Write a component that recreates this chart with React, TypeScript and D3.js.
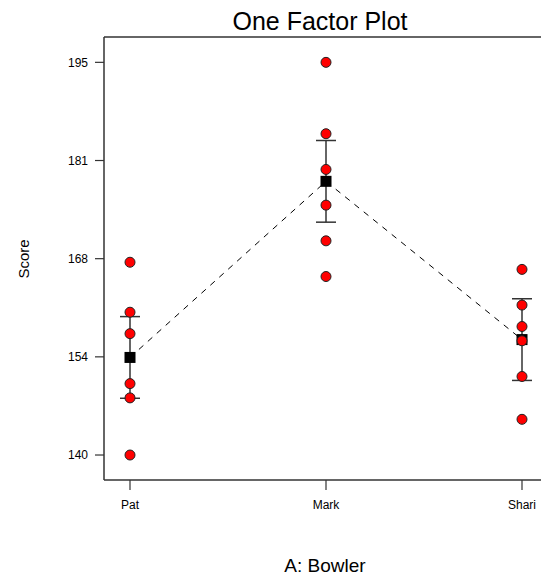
import React from "react";
import * as d3 from "d3";

const categories = ["Pat", "Mark", "Shari"];
const patScores = [167, 160, 157, 150, 148, 140];
const markScores = [195, 185, 180, 175, 170, 165];
const shariScores = [166, 161, 158, 156, 151, 145];
const lsdHalfWidth = [5.72, 5.72, 5.72];
const yTickValues = [140, 153.75, 167.5, 181.25, 195];
const yTickLabels = ["140", "154", "168", "181", "195"];

const W = 541;
const H = 575;
const plotLeft = 104;
const plotTop = 37;
const plotBottom = 480;
const plotRight = 560;

export default function App() {
  const groups = [patScores, markScores, shariScores];
  const x = d3.scalePoint<string>().domain(categories).range([130, 522]);
  const y = d3.scaleLinear().domain([136.5, 198.55]).range([plotBottom, plotTop]);
  const means = groups.map((g) => d3.mean(g) as number);
  const line = d3
    .line<number>()
    .x((_, i) => x(categories[i]) as number)
    .y((d) => y(d));
  const font = "'Liberation Sans', Arial, sans-serif";
  const axisColor = "#333";

  return (
    <svg
      width={W}
      height={H}
      style={{ position: "absolute", left: 0, top: 0, background: "#fff" }}
      fontFamily={font}
    >
      <rect x={0} y={0} width={W} height={H} fill="#fff" />
      <text x={320} y={30} textAnchor="middle" fontSize={25} fill="#000">
        One Factor Plot
      </text>
      {/* frame */}
      <line x1={plotLeft} x2={plotRight} y1={plotTop} y2={plotTop} stroke={axisColor} strokeWidth={1.5} />
      <line x1={plotLeft} x2={plotLeft} y1={plotTop} y2={plotBottom} stroke={axisColor} strokeWidth={1.5} />
      <line x1={plotLeft} x2={plotRight} y1={plotBottom} y2={plotBottom} stroke={axisColor} strokeWidth={1.5} />
      {/* y ticks */}
      {yTickValues.map((v, i) => (
        <g key={"yt" + i}>
          <line x1={95} x2={plotLeft} y1={y(v)} y2={y(v)} stroke={axisColor} strokeWidth={1.2} />
          <text x={88} y={y(v)} dy="0.35em" textAnchor="end" fontSize={12} fill="#000">
            {yTickLabels[i]}
          </text>
        </g>
      ))}
      {/* x ticks */}
      {categories.map((c) => (
        <g key={"xt" + c}>
          <line x1={x(c)} x2={x(c)} y1={plotBottom} y2={plotBottom + 10} stroke={axisColor} strokeWidth={1.2} />
          <text x={x(c)} y={509} textAnchor="middle" fontSize={12} fill="#000">
            {c}
          </text>
        </g>
      ))}
      <text x={325} y={572} textAnchor="middle" fontSize={19} fill="#000">
        A: Bowler
      </text>
      <text
        transform={`translate(29, 259) rotate(-90)`}
        textAnchor="middle"
        fontSize={15}
        fill="#000"
      >
        Score
      </text>
      {/* dashed mean line */}
      <path d={line(means) as string} fill="none" stroke="#000" strokeWidth={1} strokeDasharray="6,6" />
      {/* error bars */}
      {categories.map((c, i) => {
        const cx = x(c) as number;
        const hi = y(means[i] + lsdHalfWidth[i]);
        const lo = y(means[i] - lsdHalfWidth[i]);
        return (
          <g key={"eb" + c} stroke="#333" strokeWidth={1.5}>
            <line x1={cx} x2={cx} y1={hi} y2={lo} />
            <line x1={cx - 10} x2={cx + 10} y1={hi} y2={hi} />
            <line x1={cx - 10} x2={cx + 10} y1={lo} y2={lo} />
          </g>
        );
      })}
      {/* mean squares */}
      {categories.map((c, i) => (
        <rect
          key={"m" + c}
          x={(x(c) as number) - 5.5}
          y={y(means[i]) - 5.5}
          width={11}
          height={11}
          fill="#000"
        />
      ))}
      {/* points */}
      {groups.map((g, gi) =>
        g.map((v, j) => (
          <circle
            key={"p" + gi + "-" + j}
            cx={x(categories[gi])}
            cy={y(v)}
            r={5}
            fill="#ff0000"
            stroke="#222"
            strokeWidth={1}
          />
        ))
      )}
    </svg>
  );
}
